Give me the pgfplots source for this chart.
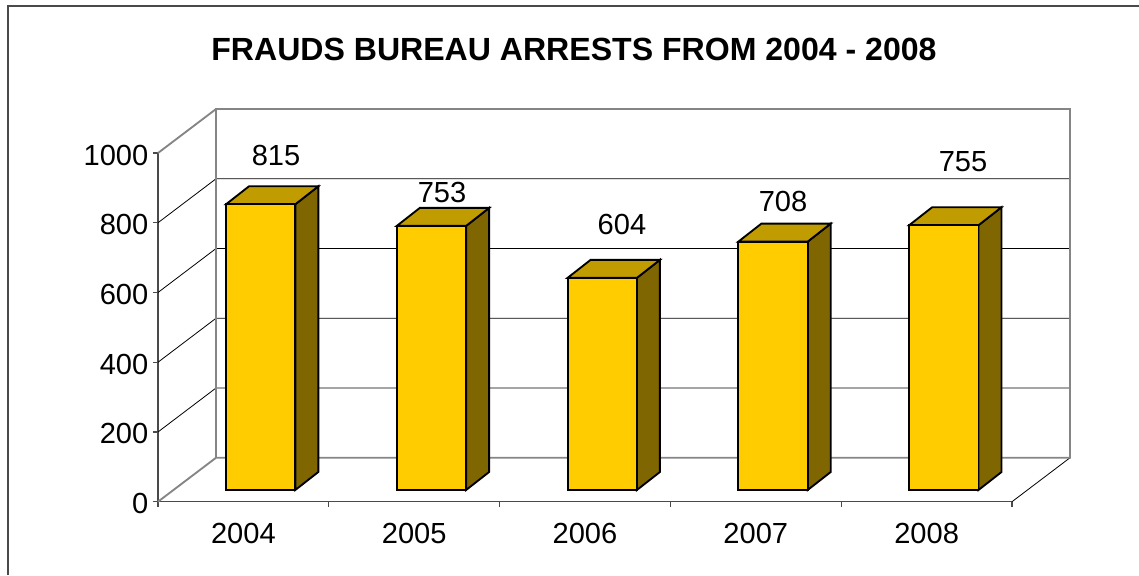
\documentclass[border=0pt]{standalone}
\usepackage{fontspec}
\setmainfont{Liberation Sans}
\usepackage{pgfplots}
\pgfplotsset{compat=1.18}

\definecolor{barfront}{HTML}{FFCC00}
\definecolor{bartop}{HTML}{C09C00}
\definecolor{barside}{HTML}{806600}
\definecolor{wallgrey}{HTML}{858585}
\definecolor{axisgrey}{HTML}{4A4A4A}

% one 3d bar: #1 category index, #2 value
\newcommand\threedbar[2]{%
  \pgfmathsetmacro\xl{#1-0.1019}%
  \pgfmathsetmacro\xr{#1+0.3040}%
  \pgfmathsetmacro\xb{#1+0.4387}%
  \pgfmathsetmacro\xc{#1+0.0328}%
  \pgfmathsetmacro\yt{#2+37.9}%
  \pgfmathsetmacro\ytb{#2+89.5}%
  \edef\temp{%
    \noexpand\addplot[draw=black,line width=1.4pt,fill=barside] coordinates {(\xr,33.6)(\xb,85.2)(\xb,\ytb)(\xr,\yt)} --cycle;
    \noexpand\addplot[draw=black,line width=1.4pt,fill=bartop] coordinates {(\xl,\yt)(\xc,\ytb)(\xb,\ytb)(\xr,\yt)} --cycle;
    \noexpand\addplot[draw=black,line width=1.4pt,fill=barfront] coordinates {(\xl,33.6)(\xl,\yt)(\xr,\yt)(\xr,33.6)} --cycle;
  }\temp
}

\begin{document}
\begin{tikzpicture}
  \useasboundingbox (0,0) rectangle (854.25pt,431.25pt);
  \draw[axisgrey,line width=1.2pt] (6pt,0) -- (6pt,426.75pt) -- (854.25pt,426.75pt);
  \node[font=\fontsize{24.05}{28}\selectfont\bfseries] at (430.5pt,394pt) {FRAUDS BUREAU ARRESTS FROM 2004 - 2008};
  \begin{axis}[
      at={(118.5pt,54.975pt)},
      anchor=south west,
      scale only axis,
      width=640.5pt,
      height=261.525pt,
      xmin=-0.5, xmax=4.5,
      ymin=0, ymax=1000,
      clip=false,
      axis x line*=bottom,
      axis y line*=left,
      axis line style={axisgrey,line width=1.1pt,-},
      tick align=outside,
      tick style={axisgrey,line width=0.9pt},
      major tick length=3.75pt,
      xtick={-0.5,0.5,1.5,2.5,3.5,4.5},
      xticklabels={},
      extra x ticks={0,1,2,3,4},
      extra x tick labels={2004,2005,2006,2007,2008},
      extra x tick style={major tick length=0pt,tick label style={yshift=-12.5pt}},
      ytick={0,200,400,600,800,1000},
      yticklabel style={/pgf/number format/1000 sep={},/pgf/number format/assume math mode=true,yshift=-1.5pt},
      tick label style={font=\fontsize{21.8}{26}\selectfont},
    ]
    % side wall and back wall lines
    \addplot[black,line width=0.6pt] coordinates {(-0.5,200)(-0.1604,326)(4.8396,326)};
    \addplot[black,line width=0.6pt] coordinates {(-0.5,400)(-0.1604,526)(4.8396,526)};
    \addplot[black,line width=0.6pt] coordinates {(-0.5,600)(-0.1604,726)(4.8396,726)};
    \addplot[black,line width=0.6pt] coordinates {(-0.5,800)(-0.1604,926)(4.8396,926)};
    \addplot[black,line width=0.6pt] coordinates {(4.5,0)(4.8396,126)};
    \addplot[wallgrey,line width=1.4pt] coordinates {(-0.5,0)(-0.1604,126)(4.8396,126)(4.8396,1126)(-0.1604,1126)(-0.1604,126)};
    \addplot[wallgrey,line width=1.4pt] coordinates {(-0.5,1000)(-0.1604,1126)};

    \threedbar{0}{815}
    \threedbar{1}{753}
    \threedbar{2}{604}
    \threedbar{3}{708}
    \threedbar{4}{755}

    \node[font=\fontsize{21.8}{26}\selectfont] at (axis cs:0.1909,994) {815};
    \node[font=\fontsize{21.8}{26}\selectfont] at (axis cs:1.1628,888) {753};
    \node[font=\fontsize{21.8}{26}\selectfont] at (axis cs:2.2166,794) {604};
    \node[font=\fontsize{21.8}{26}\selectfont] at (axis cs:3.1593,862) {708};
    \node[font=\fontsize{21.8}{26}\selectfont] at (axis cs:4.2131,974) {755};
  \end{axis}
\end{tikzpicture}
\end{document}
